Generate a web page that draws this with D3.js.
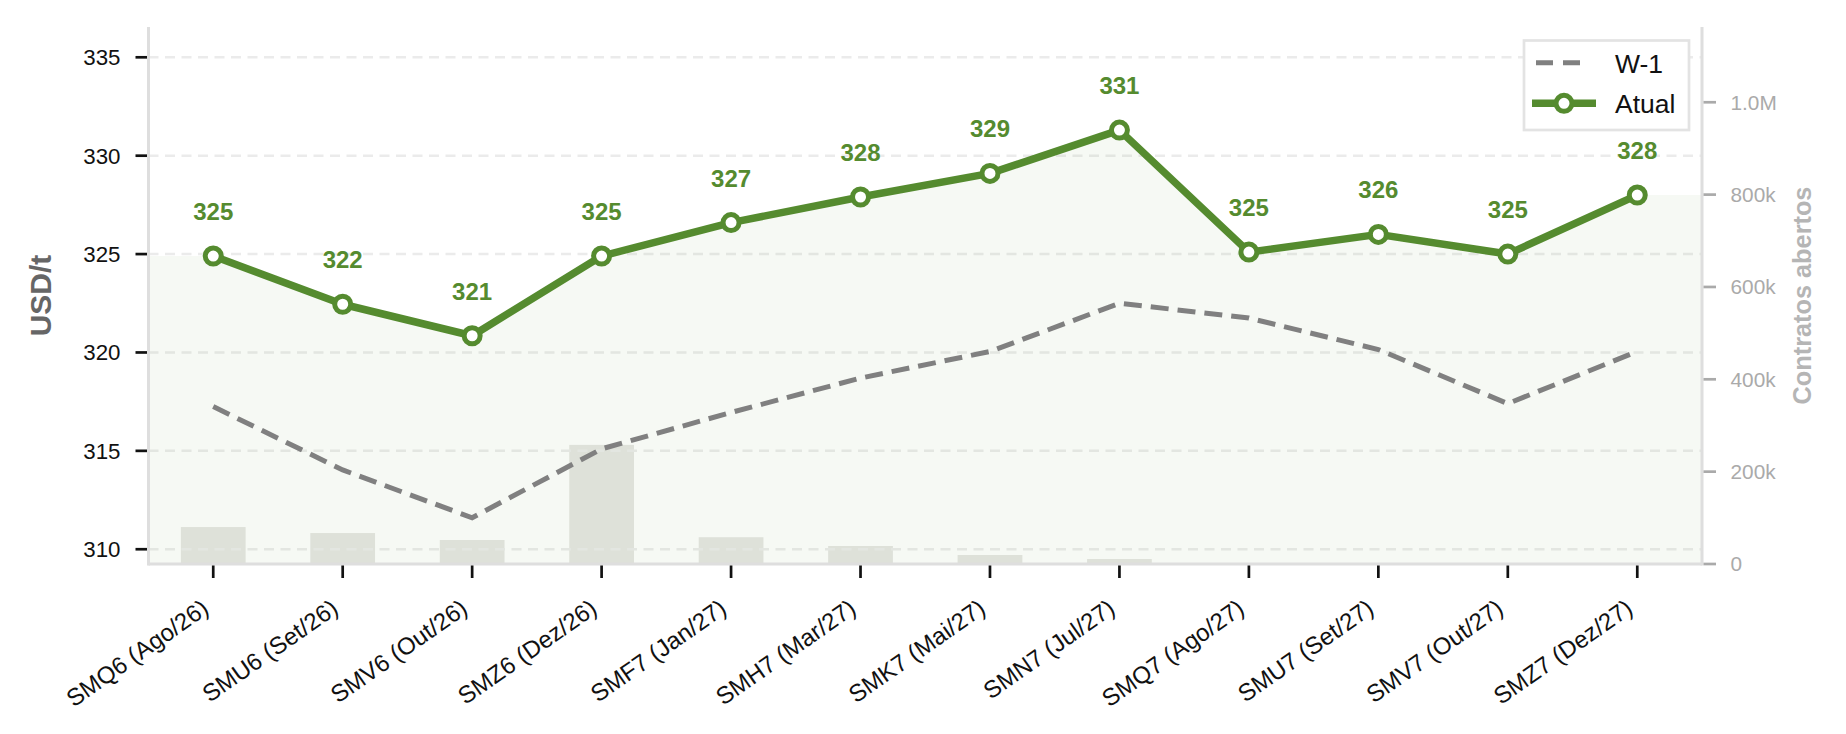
<!DOCTYPE html>
<html>
<head>
<meta charset="utf-8">
<script src="https://cdn.jsdelivr.net/npm/d3@7"></script>
<style>
  body { margin: 0; background: #fff; }
  svg { display: block; font-family: "Liberation Sans", Arial, sans-serif; }
</style>
</head>
<body>
<div id="chart"></div>
<script>
var contracts = ['SMQ6 (Ago/26)', 'SMU6 (Set/26)', 'SMV6 (Out/26)', 'SMZ6 (Dez/26)',
  'SMF7 (Jan/27)', 'SMH7 (Mar/27)', 'SMK7 (Mai/27)', 'SMN7 (Jul/27)',
  'SMQ7 (Ago/27)', 'SMU7 (Set/27)', 'SMV7 (Out/27)', 'SMZ7 (Dez/27)']
var atual = [324.9, 322.45, 320.85, 324.9, 326.6, 327.9, 329.1, 331.3, 325.1, 326.0, 325.0, 328.0]
var w1 = [317.25, 314.03, 311.6, 315.1, 316.95, 318.7, 320.05, 322.5, 321.75, 320.15, 317.4, 320.05]
var openInterest = [80000, 67000, 52000, 258000, 58000, 39000, 19500, 10800, 0, 0, 0, 0]
var leftTicks = [310, 315, 320, 325, 330, 335]
var rightTicks = [0, 200000, 400000, 600000, 800000, 1000000]

var W = 1846, H = 734
var margin = { top: 27, right: 144, bottom: 170, left: 148.5 }
var GREEN = '#558b2f'

var svg = d3.select('#chart').append('svg')
  .attr('width', W)
  .attr('height', H)
  .attr('viewBox', '0 0 ' + W + ' ' + H)

var x = d3.scaleLinear().domain([-0.5, 11.5]).range([margin.left, W - margin.right])
var y = d3.scaleLinear().domain([309.25, 336.54]).range([H - margin.bottom, margin.top])
var y2 = d3.scaleLinear().domain([0, 1163000]).range([H - margin.bottom, margin.top])

var x0 = x.range()[0], x1 = x.range()[1]
var yb = y.range()[0], yt = y.range()[1]

// open interest bars (behind everything)
svg.append('g').selectAll('rect')
  .data(openInterest)
  .enter().append('rect')
  .attr('x', function (d, i) { return x(i - 0.25) })
  .attr('width', x(0.5) - x(0))
  .attr('y', function (d) { return y2(d) })
  .attr('height', function (d) { return yb - y2(d) })
  .attr('fill', '#e6e6e3')

// grid
svg.append('g').selectAll('line')
  .data(leftTicks)
  .enter().append('line')
  .attr('x1', x0).attr('x2', x1)
  .attr('y1', function (d) { return y(d) })
  .attr('y2', function (d) { return y(d) })
  .attr('stroke', '#ebebeb')
  .attr('stroke-width', 2.5)
  .attr('stroke-dasharray', '10,6.5')

// fill under current curve, extended to the spines
var fillPts = [[-0.5, atual[0]]]
  .concat(atual.map(function (v, i) { return [i, v] }))
  .concat([[11.5, atual[atual.length - 1]]])

svg.append('path')
  .datum(fillPts)
  .attr('d', d3.area()
    .x(function (d) { return x(d[0]) })
    .y0(yb)
    .y1(function (d) { return y(d[1]) }))
  .attr('fill', GREEN)
  .attr('fill-opacity', 0.05)

// spines
var spines = svg.append('g').attr('stroke', '#dedede').attr('stroke-width', 3).attr('fill', 'none')
spines.append('line').attr('x1', x0).attr('x2', x0).attr('y1', yt).attr('y2', yb + 1.5)
spines.append('line').attr('x1', x1).attr('x2', x1).attr('y1', yt).attr('y2', yb + 1.5)
spines.append('line').attr('x1', x0).attr('x2', x1).attr('y1', yb).attr('y2', yb)

// left axis
var gl = svg.append('g')
gl.selectAll('line')
  .data(leftTicks)
  .enter().append('line')
  .attr('x1', x0 - 13).attr('x2', x0 - 1.5)
  .attr('y1', function (d) { return y(d) })
  .attr('y2', function (d) { return y(d) })
  .attr('stroke', '#111')
  .attr('stroke-width', 2.7)
gl.selectAll('text')
  .data(leftTicks)
  .enter().append('text')
  .attr('x', 120.5)
  .attr('y', function (d) { return y(d) })
  .attr('dy', '0.36em')
  .attr('text-anchor', 'end')
  .attr('font-size', 22.3)
  .attr('fill', '#111')
  .text(function (d) { return d })

svg.append('text')
  .attr('transform', 'translate(51,' + ((yt + yb) / 2) + ') rotate(-90)')
  .attr('text-anchor', 'middle')
  .attr('font-size', 30)
  .attr('font-weight', 'bold')
  .attr('fill', '#666')
  .text('USD/t')

// right axis
var gr = svg.append('g')
gr.selectAll('line')
  .data(rightTicks)
  .enter().append('line')
  .attr('x1', x1 + 1.5).attr('x2', x1 + 14)
  .attr('y1', function (d) { return y2(d) })
  .attr('y2', function (d) { return y2(d) })
  .attr('stroke', '#aaa')
  .attr('stroke-width', 2.7)
gr.selectAll('text')
  .data(rightTicks)
  .enter().append('text')
  .attr('x', x1 + 28.5)
  .attr('y', function (d) { return y2(d) })
  .attr('dy', '0.36em')
  .attr('font-size', 20.8)
  .attr('fill', '#aaa')
  .text(function (d) {
    if (d === 0) return '0'
    if (d >= 1000000) return (d / 1000000).toFixed(1) + 'M'
    return (d / 1000) + 'k'
  })

svg.append('text')
  .attr('transform', 'translate(1811,' + ((yt + yb) / 2) + ') rotate(-90)')
  .attr('text-anchor', 'middle')
  .attr('font-size', 25.3)
  .attr('font-weight', 'bold')
  .attr('fill', '#b5b5b5')
  .text('Contratos abertos')

// x axis
var gx = svg.append('g')
gx.selectAll('line')
  .data(contracts)
  .enter().append('line')
  .attr('x1', function (d, i) { return x(i) })
  .attr('x2', function (d, i) { return x(i) })
  .attr('y1', yb + 1.5).attr('y2', yb + 14)
  .attr('stroke', '#111')
  .attr('stroke-width', 2.7)
gx.selectAll('text')
  .data(contracts)
  .enter().append('text')
  .attr('transform', function (d, i) { return 'translate(' + (x(i) - 3) + ',' + (yb + 48) + ') rotate(-35)' })
  .attr('text-anchor', 'end')
  .attr('font-size', 24)
  .attr('fill', '#111')
  .text(function (d) { return d })

// W-1 line
svg.append('path')
  .datum(w1)
  .attr('d', d3.line()
    .x(function (d, i) { return x(i) })
    .y(function (d) { return y(d) }))
  .attr('fill', 'none')
  .attr('stroke', '#808080')
  .attr('stroke-width', 5)
  .attr('stroke-dasharray', '18,9')

// current line
svg.append('path')
  .datum(atual)
  .attr('d', d3.line()
    .x(function (d, i) { return x(i) })
    .y(function (d) { return y(d) }))
  .attr('fill', 'none')
  .attr('stroke', GREEN)
  .attr('stroke-width', 7.5)
  .attr('stroke-linejoin', 'round')

svg.append('g').selectAll('circle')
  .data(atual)
  .enter().append('circle')
  .attr('cx', function (d, i) { return x(i) })
  .attr('cy', function (d) { return y(d) })
  .attr('r', 8)
  .attr('fill', '#fff')
  .attr('stroke', GREEN)
  .attr('stroke-width', 5)

svg.append('g').selectAll('text')
  .data(atual)
  .enter().append('text')
  .attr('x', function (d, i) { return x(i) })
  .attr('y', function (d) { return y(d) - 36 })
  .attr('text-anchor', 'middle')
  .attr('font-size', 24)
  .attr('font-weight', 'bold')
  .attr('fill', GREEN)
  .text(function (d) { return Math.round(d) })

// legend
var lg = svg.append('g')
lg.append('rect')
  .attr('x', 1524).attr('y', 40.5)
  .attr('width', 165).attr('height', 89.5)
  .attr('fill', '#fff')
  .attr('stroke', '#e3e3e3')
  .attr('stroke-width', 2.7)
lg.append('line')
  .attr('x1', 1536).attr('x2', 1588).attr('y1', 62.7).attr('y2', 62.7)
  .attr('stroke', '#808080').attr('stroke-width', 5).attr('stroke-dasharray', '17,10')
lg.append('text')
  .attr('x', 1615).attr('y', 72.5)
  .attr('font-size', 26.5).attr('fill', '#111')
  .text('W-1')
lg.append('line')
  .attr('x1', 1532).attr('x2', 1596).attr('y1', 103.3).attr('y2', 103.3)
  .attr('stroke', GREEN).attr('stroke-width', 7.5)
lg.append('circle')
  .attr('cx', 1564).attr('cy', 103.3).attr('r', 8)
  .attr('fill', '#fff').attr('stroke', GREEN).attr('stroke-width', 5)
lg.append('text')
  .attr('x', 1615).attr('y', 112.7)
  .attr('font-size', 26.5).attr('fill', '#111')
  .text('Atual')
</script>
</body>
</html>
